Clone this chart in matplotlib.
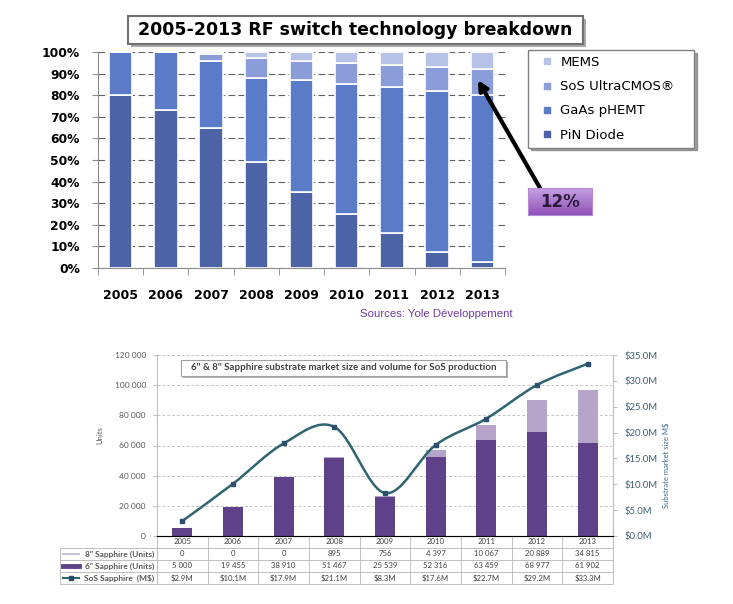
import matplotlib.pyplot as plt
import matplotlib.transforms as mtransforms
import numpy as np
from matplotlib.lines import Line2D
from matplotlib.patches import PathPatch, Rectangle
from matplotlib.path import Path

W, H = 733, 604

# top chart: RF switch technology share (%)
years = ["2005", "2006", "2007", "2008", "2009", "2010", "2011", "2012", "2013"]
pin_diode = [80, 73, 65, 49, 35, 25, 16, 7.5, 3]
gaas_phemt = [20, 27, 31, 39, 52, 60, 68, 74.5, 77]
sos_ultracmos = [0, 0, 3, 9, 9, 10, 10, 11, 12]
mems = [0, 0, 1, 3, 4, 5, 6, 7, 8]
tech_labels = ["PiN Diode", "GaAs pHEMT", "SoS UltraCMOS®", "MEMS"]
tech_colors = ["#4C64A6", "#5A7BC7", "#8A9DD8", "#B7C2E7"]

# bottom chart: sapphire substrates
sapphire_8in = [0, 0, 0, 895, 756, 4397, 10067, 20889, 34815]
sapphire_6in = [5000, 19455, 38910, 51467, 25539, 52316, 63459, 68977, 61902]
sos_market = [2.9, 10.1, 17.9, 21.1, 8.3, 17.6, 22.7, 29.2, 33.3]
row_labels = ['8" Sapphire (Units)', '6" Sapphire (Units)', "SoS Sapphire  (M$)"]


def fx(px):
    return px / W


def fy(py):
    return 1 - py / H


def fig_box(x0, y0, x1, y1, **kw):
    fig.add_artist(Rectangle((fx(x0), fy(y1)), (x1 - x0) / W, (y1 - y0) / H,
                             transform=fig.transFigure, **kw))


def smooth_path(xs, ys):
    # excel-like smoothed line: catmull-rom segments as cubic beziers
    P = np.column_stack([xs, ys]).astype(float)
    P_ext = np.vstack([P[0], P, P[-1]])
    verts, codes = [P[0]], [Path.MOVETO]
    for i in range(len(P) - 1):
        p0, p1, p2, p3 = P_ext[i], P_ext[i + 1], P_ext[i + 2], P_ext[i + 3]
        verts += [p1 + (p2 - p0) / 6, p2 - (p3 - p1) / 6, p2]
        codes += [Path.CURVE4] * 3
    return Path(verts, codes)


fig = plt.figure(figsize=(W / 100, H / 100), dpi=100)
fig.patch.set_facecolor("white")

# ---------------- top chart ----------------
ax1 = fig.add_axes([fx(98), fy(268), (505 - 98) / W, (268 - 52) / H])
x = np.arange(len(years))
bottom = np.zeros(len(years))
for vals, col, lab in zip([pin_diode, gaas_phemt, sos_ultracmos, mems], tech_colors, tech_labels):
    ax1.bar(x, vals, 0.52, bottom=bottom, color=col, edgecolor="white", linewidth=1.2, zorder=3)
    bottom += np.array(vals)

ax1.set_xlim(-0.5, 8.5)
ax1.set_ylim(0, 100)
ax1.set_yticks(range(0, 101, 10), [f"{v}%" for v in range(0, 101, 10)])
ax1.set_xticks(x, years)
ax1.set_xticks(np.arange(-0.5, 9, 1), minor=True)
ax1.yaxis.grid(True, linestyle=(0, (6, 3)), color="#606060", linewidth=0.8)
ax1.set_axisbelow(True)
for s in ["top", "right"]:
    ax1.spines[s].set_visible(False)
for s in ["left", "bottom"]:
    ax1.spines[s].set_color("#8C8C8C")
ax1.tick_params(axis="x", which="major", length=0, pad=15, labelsize=9)
ax1.tick_params(axis="x", which="minor", length=5, color="#8C8C8C")
ax1.tick_params(axis="y", length=4, color="#8C8C8C", pad=9, labelsize=8.8)
for lab in ax1.get_xticklabels() + ax1.get_yticklabels():
    lab.set_fontweight("bold")

# title box
fig_box(131, 19, 586, 47, facecolor="#A8A8A8", edgecolor="none")
fig_box(128, 16, 583, 44, facecolor="white", edgecolor="#707070", linewidth=1.5)
fig.text(fx(355.5), fy(30), "2005-2013 RF switch technology breakdown",
         ha="center", va="center", fontsize=12.5, fontweight="bold")

handles = [Line2D([], [], marker="s", ls="none", markersize=4.5, color=c)
           for c in tech_colors[::-1]]
fig.legend(handles, tech_labels[::-1], loc="upper left",
           bbox_to_anchor=(fx(528), fy(50), 166 / W, 0), mode="expand", borderaxespad=0,
           fontsize=9.5, handlelength=2.0, handletextpad=0.0, borderpad=0.45,
           labelspacing=0.85, frameon=True, fancybox=False, shadow=True,
           edgecolor="#808080")

# 12% callout
ax_tag = fig.add_axes([fx(528), fy(215), 64 / W, 27 / H])
grad = np.linspace(0, 1, 50)[:, None, None]
top_c = np.array([0xC8, 0xA0, 0xE2]) / 255
bot_c = np.array([0x8E, 0x52, 0xB8]) / 255
ax_tag.imshow(top_c * (1 - grad) + bot_c * grad, aspect="auto", extent=[0, 1, 0, 1])
ax_tag.set_xticks([])
ax_tag.set_yticks([])
for s in ax_tag.spines.values():
    s.set_color("#B58AD6")
ax_tag.text(0.5, 0.48, "12%", transform=ax_tag.transAxes, ha="center", va="center",
            fontsize=12, fontweight="bold", color="#2A1B3D")

ax1.annotate("", xy=(7.9, 87), xycoords="data",
             xytext=(fx(540), fy(188)), textcoords="figure fraction",
             arrowprops=dict(arrowstyle="-|>", lw=3, color="black", mutation_scale=14,
                             shrinkA=0, shrinkB=0))

fig.text(fx(360), fy(314), "Sources: Yole Développement", ha="left", va="center",
         fontsize=8.2, color="#6E3DA0", family="Liberation Sans")

# ---------------- bottom chart ----------------
ax3 = fig.add_axes([fx(157), fy(536), 456 / W, 181 / H])
ax3.bar(x, sapphire_6in, 0.4, color="#5F4189", zorder=3)
ax3.bar(x, sapphire_8in, 0.4, bottom=sapphire_6in, color="#B6A5CB", zorder=3)
ax3.set_xlim(-0.5, 8.5)
ax3.set_ylim(0, 120000)
yt = range(0, 120001, 20000)
ax3.set_yticks(yt, [f"{v:,}".replace(",", " ") for v in yt])
ax3.set_xticks([])
ax3.yaxis.grid(True, linestyle=(0, (3, 2)), color="#C4C4C4", linewidth=0.7)
ax3.set_axisbelow(True)
ax3.spines["top"].set_visible(False)
for s in ["left", "right", "bottom"]:
    ax3.spines[s].set_color("#BFBFBF")
ax3.tick_params(axis="y", length=3, color="#BFBFBF", pad=5, labelsize=6, labelcolor="#595959")
for lab in ax3.get_yticklabels():
    lab.set_family("Lato")
ax3.set_ylabel("Units", fontsize=5.5, color="#595959", family="Lato")
ax3.yaxis.set_label_coords(-(157 - 103) / 456, (536 - 435) / 181)

ax4 = ax3.twinx()
ax4.set_ylim(0, 35)
rt = range(0, 36, 5)
ax4.set_yticks(rt, [f"${v:.1f}M" for v in rt])
ax4.spines["top"].set_visible(False)
ax4.spines["right"].set_color("#BFBFBF")
ax4.spines["left"].set_visible(False)
ax4.tick_params(axis="y", length=3, color="#BFBFBF", pad=5, labelsize=6.8, labelcolor="#3F5F6F")
for lab in ax4.get_yticklabels():
    lab.set_family("Lato")
ax4.set_ylabel("Substrate market size M$", fontsize=5.5, color="#3D6B8A", family="Lato")
ax4.yaxis.set_label_coords((663 - 157) / 456, (536 - 465) / 181)

ax4.add_patch(PathPatch(smooth_path(x, sos_market), fill=False, edgecolor="#2F6470",
                        linewidth=1.8, zorder=4))
ax4.plot(x, sos_market, "s", color="#2E4E6E", markersize=3.5, zorder=5)

# chart title box
fig_box(183, 362, 508, 378, facecolor="#B0B0B0", edgecolor="none")
fig_box(181, 360, 506, 376, facecolor="white", edgecolor="#A0A0A0", linewidth=0.8)
fig.text(fx(343.5), fy(367.5), '6" & 8" Sapphire substrate market size and volume for SoS production',
         ha="center", va="center", fontsize=7, fontweight="bold", color="#404040", family="Lato")

# data table under the bottom chart
trans = mtransforms.blended_transform_factory(ax3.transData, ax3.transAxes)
row_h = 12 / 181
label_left = -(157 - 60) / 456
line_kw = dict(colors="#BFBFBF", linewidth=0.7, clip_on=False)
ax3.vlines(np.arange(-0.5, 9, 1), -4 * row_h, 0, transform=trans, **line_kw)
ax3.hlines([-row_h * k for k in range(1, 5)], label_left, 1, transform=ax3.transAxes, **line_kw)
ax3.vlines([label_left], -4 * row_h, -row_h, transform=ax3.transAxes, **line_kw)

rows = [
    years,
    [f"{v:,}".replace(",", " ") for v in sapphire_8in],
    [f"{v:,}".replace(",", " ") for v in sapphire_6in],
    [f"${v:.1f}M" for v in sos_market],
]
for r, cells in enumerate(rows):
    for i, txt in enumerate(cells):
        ax3.text(i, -(r + 0.5) * row_h, txt, transform=trans, ha="center", va="center",
                 fontsize=5.6, color="#404040", family="Lato")

for k, lab in enumerate(row_labels):
    ax3.text(-3 / 456, -(k + 1.5) * row_h, lab, transform=ax3.transAxes, ha="right",
             va="center", fontsize=6, fontweight="bold", color="#595959", family="Lato")

key_x = [(63 - 157) / 456, (79 - 157) / 456]
for k, (col, lw) in enumerate([("#C9C1DA", 1.5), ("#5F4189", 3.5), ("#2F6470", 1.5)]):
    yk = -(k + 1.5) * row_h
    ax3.add_line(Line2D(key_x, [yk, yk], color=col, linewidth=lw,
                        transform=ax3.transAxes, clip_on=False))
ax3.add_line(Line2D([np.mean(key_x)], [-3.5 * row_h], marker="s", markersize=3,
                    color="#2E4E6E", transform=ax3.transAxes, clip_on=False))

fig.savefig("out.png", dpi=100)
